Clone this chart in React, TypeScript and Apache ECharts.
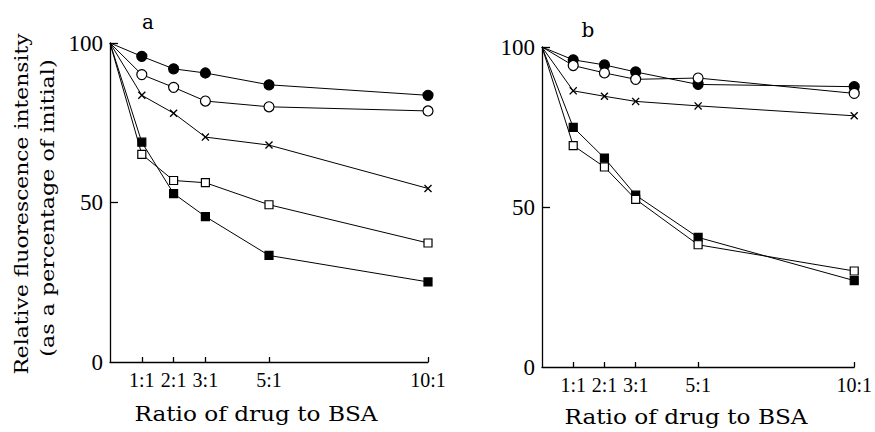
import React, { useEffect, useRef } from "react";
import * as echarts from "echarts";

const ratios = [0, 1, 2, 3, 5, 10];
const xTickValues = [1, 2, 3, 5, 10];
const xTickLabels = ["1:1", "2:1", "3:1", "5:1", "10:1"];
const yTicks = [0, 50, 100];

// Panel a
const aFilledCircle = [100, 95.8, 91.9, 90.6, 86.9, 83.6];
const aOpenCircle = [100, 90.1, 86.1, 81.8, 80.0, 78.7];
const aCross = [100, 83.6, 78.0, 70.5, 68.0, 54.4];
const aOpenSquare = [100, 65.1, 56.9, 56.2, 49.3, 37.3];
const aFilledSquare = [100, 68.9, 52.8, 45.6, 33.4, 25.1];

// Panel b
const bFilledCircle = [100, 96.0, 94.4, 92.2, 88.3, 87.6];
const bOpenCircle = [100, 94.2, 91.9, 89.9, 90.3, 85.5];
const bCross = [100, 86.3, 84.6, 83.0, 81.6, 78.5];
const bFilledSquare = [100, 74.9, 65.3, 53.7, 40.5, 27.0];
const bOpenSquare = [100, 69.2, 62.5, 52.4, 38.2, 30.0];

const CROSS =
  "path://M0,1.2 L1.2,0 L5,3.8 L8.8,0 L10,1.2 L6.2,5 L10,8.8 L8.8,10 L5,6.2 L1.2,10 L0,8.8 L3.8,5 Z";

type Kind = "fc" | "oc" | "x" | "fs" | "os";

function makeSeries(values: number[], kind: Kind, idx: number) {
  const symbolMap: Record<Kind, string> = {
    fc: "circle",
    oc: "circle",
    x: CROSS,
    fs: "rect",
    os: "rect",
  };
  const sizeMap: Record<Kind, number> = { fc: 10, oc: 10, x: 8, fs: 8, os: 8 };
  const filled = kind === "fc" || kind === "fs" || kind === "x";
  return {
    type: "line",
    xAxisIndex: idx,
    yAxisIndex: idx,
    symbol: symbolMap[kind],
    symbolSize: sizeMap[kind],
    showSymbol: true,
    z: 3,
    lineStyle: { color: "#000", width: 1 },
    itemStyle: {
      color: filled ? "#000" : "#fff",
      borderColor: "#000",
      borderWidth: kind === "x" ? 0 : 1.2,
    },
    data: ratios.map((r, i) =>
      i === 0 ? { value: [r, values[i]], symbol: "none" } : [r, values[i]]
    ),
  };
}

const serif = "DejaVu Serif";
const tickFont = "Liberation Serif";

function xAxisFor(idx: number) {
  return {
    gridIndex: idx,
    type: "value",
    min: 0,
    max: 10,
    axisLine: { show: true, lineStyle: { color: "#000", width: 1.3 } },
    axisTick: {
      show: true,
      inside: true,
      length: 5,
      customValues: xTickValues,
      lineStyle: { color: "#000", width: 1.3 },
    },
    axisLabel: {
      customValues: xTickValues,
      formatter: (v: number) => xTickLabels[xTickValues.indexOf(v)] ?? "",
      color: "#000",
      fontFamily: tickFont,
      fontSize: 20,
      margin: 8,
    },
    splitLine: { show: false },
  };
}

function yAxisFor(idx: number) {
  return {
    gridIndex: idx,
    type: "value",
    min: 0,
    max: 100,
    interval: 50,
    axisLine: { show: true, lineStyle: { color: "#000", width: 1.3 } },
    axisTick: {
      show: true,
      inside: true,
      length: 8,
      customValues: [50, 100],
      lineStyle: { color: "#000", width: 1.3 },
    },
    axisLabel: {
      customValues: yTicks,
      color: "#000",
      fontFamily: tickFont,
      fontSize: 23,
      margin: 7,
    },
    splitLine: { show: false },
  };
}

function label(text: string, x: number, y: number, size: number, font: string, extra: any = {}) {
  return {
    type: "text",
    x,
    y,
    ...extra,
    style: {
      text,
      font: `${size}px "${font}"`,
      fill: "#000",
      align: "center",
      verticalAlign: "middle",
    },
  };
}

export default function App() {
  const ref = useRef<HTMLDivElement>(null);
  useEffect(() => {
    if (!ref.current) return;
    const chart = echarts.init(ref.current, null, { renderer: "svg" });
    chart.setOption({
      animation: false,
      backgroundColor: "#fff",
      grid: [
        { left: 110, top: 43, width: 318, height: 319 },
        { left: 542, top: 47, width: 318, height: 320 },
      ],
      xAxis: [xAxisFor(0), xAxisFor(1)],
      yAxis: [yAxisFor(0), yAxisFor(1)],
      series: [
        makeSeries(aFilledCircle, "fc", 0),
        makeSeries(aOpenCircle, "oc", 0),
        makeSeries(aCross, "x", 0),
        makeSeries(aOpenSquare, "os", 0),
        makeSeries(aFilledSquare, "fs", 0),
        makeSeries(bFilledCircle, "fc", 1),
        makeSeries(bOpenCircle, "oc", 1),
        makeSeries(bCross, "x", 1),
        makeSeries(bFilledSquare, "fs", 1),
        makeSeries(bOpenSquare, "os", 1),
      ],
      graphic: [
        label("a", 148, 22, 20, serif),
        label("b", 588, 30, 20, serif),
        label("Relative fluorescence intensity", 22, 204, 19, serif, {
          rotation: Math.PI / 2,
          scaleX: 1.15,
        }),
        label("(as a percentage of initial)", 48, 208, 19, serif, {
          rotation: Math.PI / 2,
          scaleX: 1.17,
        }),
        label("Ratio of drug to BSA", 256, 414, 20, serif, { scaleX: 1.16 }),
        label("Ratio of drug to BSA", 686, 417, 20, serif, { scaleX: 1.16 }),
      ],
    });
    return () => chart.dispose();
  }, []);
  return (
    <div
      ref={ref}
      style={{ position: "fixed", left: 0, top: 0, width: 875, height: 432 }}
    />
  );
}
